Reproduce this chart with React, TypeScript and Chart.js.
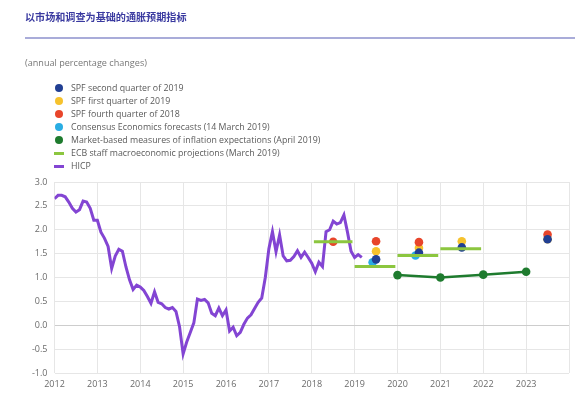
import React, { useEffect, useRef } from "react";
import { Chart, registerables } from "chart.js";

Chart.register(...registerables);

const TITLE = "以市场和调查为基础的通胀预期指标";
const SUBTITLE = "(annual percentage changes)";

// HICP monthly, starting January 2012
const HICP_START = 2012;
const hicp = [
  2.65, 2.72, 2.72, 2.69, 2.58, 2.45, 2.37, 2.42, 2.6, 2.58, 2.45, 2.2,
  2.2, 1.95, 1.82, 1.65, 1.19, 1.45, 1.59, 1.55, 1.22, 0.95, 0.75, 0.84,
  0.8, 0.73, 0.6, 0.46, 0.7, 0.48, 0.45, 0.37, 0.34, 0.37, 0.29, -0.03,
  -0.6, -0.35, -0.15, 0.05, 0.55, 0.52, 0.54, 0.47, 0.25, 0.2, 0.36, 0.2,
  0.32, -0.12, -0.04, -0.22, -0.15, 0.02, 0.15, 0.22, 0.35, 0.48, 0.57, 1.0,
  1.6, 1.96, 1.54, 1.89, 1.45, 1.35, 1.36, 1.44, 1.56, 1.42, 1.53, 1.42,
  1.3, 1.12, 1.32, 1.23, 1.96, 2.0, 2.18, 2.12, 2.15, 2.31, 1.95, 1.55,
  1.42, 1.48, 1.42,
];

const spfQ2_2019X = [2019.5, 2020.5, 2021.5, 2023.5];
const spfQ2_2019 = [1.38, 1.52, 1.63, 1.8];
const spfQ1_2019X = [2019.5, 2020.5, 2021.5, 2023.5];
const spfQ1_2019 = [1.55, 1.62, 1.76, 1.8];
const spfQ4_2018X = [2018.5, 2019.5, 2020.5, 2023.5];
const spfQ4_2018 = [1.75, 1.76, 1.74, 1.9];
const consensusX = [2019.42, 2020.42];
const consensus = [1.32, 1.46];
const marketX = [2020, 2021, 2022, 2023];
const market = [1.05, 1.0, 1.06, 1.12];
const ecbStart = [2018.05, 2019.0, 2020.0, 2021.0];
const ecbEnd = [2018.95, 2019.95, 2020.95, 2021.95];
const ecb = [1.75, 1.23, 1.46, 1.6];

const C_BLUE = "#213f93";
const C_YELLOW = "#f6c22d";
const C_RED = "#e8452b";
const C_LBLUE = "#2aade3";
const C_DGREEN = "#1e7b2e";
const C_LIME = "#8cc63f";
const C_PURPLE = "#8345d3";

const legendItems = [
  { label: "SPF second quarter of 2019", color: C_BLUE, type: "dot" },
  { label: "SPF first quarter of 2019", color: C_YELLOW, type: "dot" },
  { label: "SPF fourth quarter of 2018", color: C_RED, type: "dot" },
  { label: "Consensus Economics forecasts (14 March 2019)", color: C_LBLUE, type: "dot" },
  { label: "Market-based measures of inflation expectations (April 2019)", color: C_DGREEN, type: "dot" },
  { label: "ECB staff macroeconomic projections (March 2019)", color: C_LIME, type: "line" },
  { label: "HICP", color: C_PURPLE, type: "line" },
];

const pts = (xs: number[], ys: number[]) => xs.map((x, i) => ({ x, y: ys[i] }));

export default function App() {
  const ref = useRef<HTMLCanvasElement | null>(null);

  useEffect(() => {
    if (!ref.current) return;
    Chart.defaults.font.family = "'Open Sans', sans-serif";
    const hicpData = hicp.map((v, i) => ({ x: HICP_START + i / 12, y: v }));
    const ecbData: any[] = [];
    ecb.forEach((v, i) => {
      ecbData.push({ x: ecbStart[i], y: v });
      ecbData.push({ x: ecbEnd[i], y: v });
      ecbData.push({ x: ecbEnd[i] + 0.01, y: null });
    });
    const dotDs = (label: string, data: any[], color: string, order: number) => ({
      label,
      data,
      showLine: false,
      pointRadius: 4.3,
      pointBackgroundColor: color,
      pointBorderColor: color,
      pointBorderWidth: 0,
      borderColor: color,
      backgroundColor: color,
      order,
    });
    const chart = new Chart(ref.current, {
      type: "line",
      data: {
        datasets: [
          {
            label: "HICP",
            data: hicpData,
            borderColor: C_PURPLE,
            borderWidth: 3,
            pointRadius: 0,
            tension: 0,
            order: 10,
          },
          {
            label: "Market-based",
            data: pts(marketX, market),
            borderColor: C_DGREEN,
            backgroundColor: C_DGREEN,
            pointBackgroundColor: C_DGREEN,
            pointBorderWidth: 0,
            borderWidth: 2.5,
            pointRadius: 4.3,
            order: 9,
          },
          dotDs("Consensus", pts(consensusX, consensus), C_LBLUE, 6),
          dotDs("SPF Q1 2019", pts(spfQ1_2019X, spfQ1_2019), C_YELLOW, 5),
          dotDs("SPF Q4 2018", pts(spfQ4_2018X, spfQ4_2018), C_RED, 4),
          dotDs("SPF Q2 2019", pts(spfQ2_2019X, spfQ2_2019), C_BLUE, 3),
          {
            label: "ECB",
            data: ecbData,
            borderColor: C_LIME,
            borderWidth: 3,
            pointRadius: 0,
            spanGaps: false,
            order: 1,
          },
        ],
      },
      options: {
        animation: false,
        responsive: true,
        maintainAspectRatio: false,
        layout: { padding: { left: 8, top: 182, right: 6, bottom: 0 } },
        plugins: { legend: { display: false }, tooltip: { enabled: false } },
        scales: {
          x: {
            type: "linear",
            min: 2012,
            max: 2024,
            afterFit: (s: any) => {
              s.height = 25;
            },
            ticks: {
              stepSize: 1,
              padding: 6,
              color: "#6b6b6b",
              font: { size: 9 },
              maxRotation: 0,
              callback: (v: any) => (v === 2024 ? "" : String(v)),
            },
            grid: { color: "#e6e6e6", drawTicks: false },
            border: { display: false },
          },
          y: {
            min: -1,
            max: 3,
            afterFit: (s: any) => {
              s.width = 46.5;
            },
            ticks: {
              stepSize: 0.5,
              padding: 7,
              color: "#6b6b6b",
              font: { size: 9 },
              callback: (v: any) => Number(v).toFixed(1),
            },
            grid: {
              color: (ctx: any) => (ctx.tick && ctx.tick.value === 0 ? "#cdcdcd" : "#e6e6e6"),
              drawTicks: false,
            },
            border: { display: false },
          },
        },
      },
    } as any);
    return () => chart.destroy();
  }, []);

  return (
    <div
      style={{
        position: "fixed",
        left: 0,
        top: 0,
        width: 575,
        height: 398,
        background: "#fff",
        fontFamily: "'Open Sans', sans-serif",
        overflow: "hidden",
      }}
    >
      <canvas ref={ref} style={{ position: "absolute", left: 0, top: 0, width: 575, height: 398 }} />
      <div
        style={{
          position: "absolute",
          left: 25,
          top: 9,
          fontSize: 10.1,
          fontWeight: 700,
          color: "#3a3aa0",
          fontFamily: "'Noto Sans CJK SC', sans-serif",
          lineHeight: "16px",
        }}
      >
        {TITLE}
      </div>
      <div
        style={{ position: "absolute", left: 25, top: 36.5, width: 550, height: 2, background: "#a9acd9" }}
      />
      <div
        style={{ position: "absolute", left: 25, top: 56, fontSize: 9.1, color: "#777", lineHeight: "14px" }}
      >
        {SUBTITLE}
      </div>
      {legendItems.map((it, i) => (
        <div
          key={it.label}
          style={{
            position: "absolute",
            left: 54,
            top: 81.5 + i * 13,
            height: 13,
            display: "flex",
            alignItems: "center",
            fontSize: 8.8,
            color: "#5a5a5a",
            whiteSpace: "nowrap",
          }}
        >
          {it.type === "dot" ? (
            <span
              style={{
                display: "inline-block",
                width: 8,
                height: 8,
                borderRadius: 4,
                background: it.color,
                marginLeft: 1,
                marginRight: 8,
              }}
            />
          ) : (
            <span
              style={{
                display: "inline-block",
                width: 10,
                height: 3,
                background: it.color,
                marginRight: 7,
              }}
            />
          )}
          <span>{it.label}</span>
        </div>
      ))}
    </div>
  );
}
